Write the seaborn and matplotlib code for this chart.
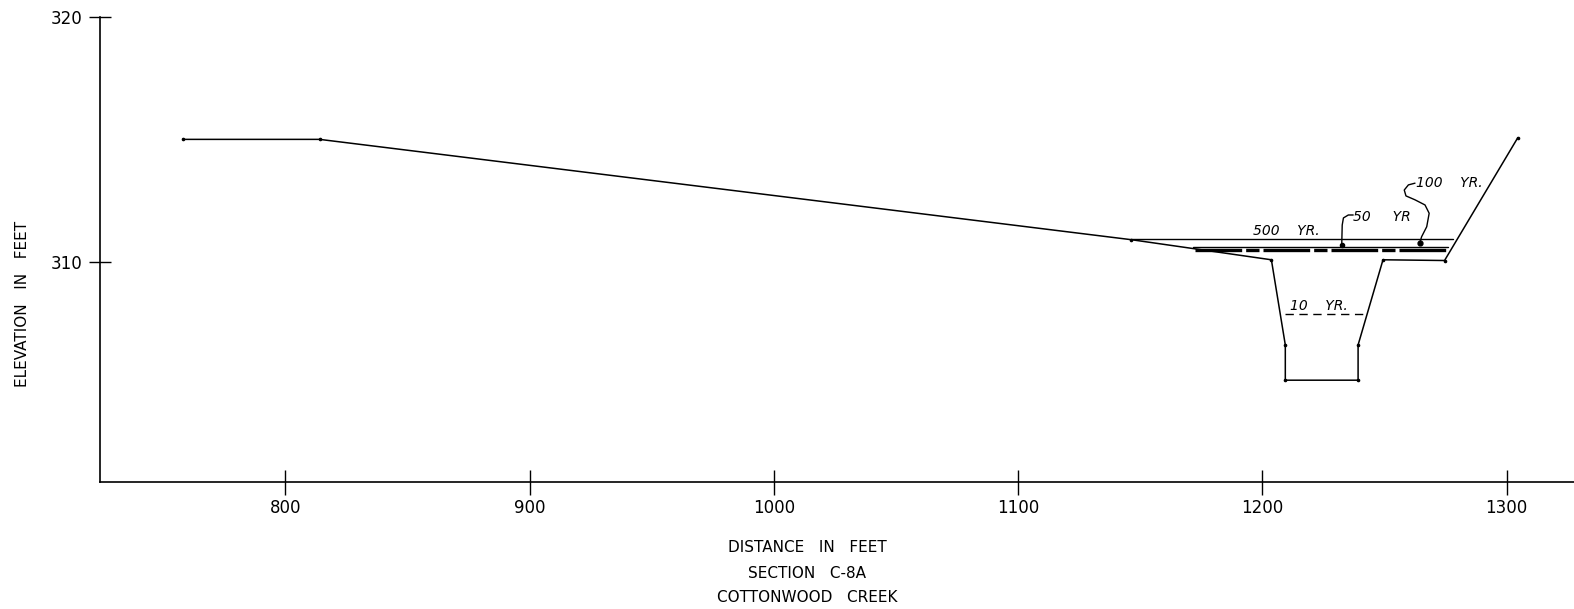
import matplotlib
matplotlib.use("Agg")
import matplotlib.pyplot as plt
import seaborn as sns
import pandas as pd

# --- DATOS ---
# perfil del terreno, seccion C-8A
ground_dist = [758, 814, 1146.4, 1203.7, 1209.4, 1209.4, 1239.2, 1239.2, 1249.4, 1274.6, 1304.6]
ground_elev = [315.0, 315.0, 310.9, 310.08, 306.6, 305.16, 305.16, 306.6, 310.08, 310.05, 315.07]

# niveles de agua por periodo de retorno
wl_500_dist = [1146.4, 1277.9]
wl_500_elev = [310.92, 310.92]
wl_100_dist = [1171.5, 1275.9]
wl_100_elev = [310.62, 310.62]
wl_50_dist = [1172.5, 1275.9]
wl_50_elev = [310.5, 310.5]
wl_10_dist = [1209.3, 1243.0]
wl_10_elev = [307.86, 307.86]

# lineas guia de las etiquetas
lead_50_dist = [1237.2, 1235.2, 1233.2, 1232.7, 1232.5]
lead_50_elev = [311.91, 311.91, 311.79, 311.50, 310.68]
lead_100_dist = [1262.5, 1259.8, 1258.1, 1258.8, 1262.5, 1266.6, 1268.3, 1267.3, 1265.2, 1264.5]
lead_100_elev = [313.21, 313.14, 312.93, 312.69, 312.53, 312.32, 311.98, 311.43, 311.02, 310.78]

x_ticks = [800, 900, 1000, 1100, 1200, 1300]
y_ticks = [310, 320]

# --- GRAFICO ---
sns.set_style("ticks")
plt.rcParams["font.family"] = ["DejaVu Sans"]
plt.rcParams["text.color"] = "black"
plt.rcParams["xtick.color"] = "black"
plt.rcParams["ytick.color"] = "black"

fig = plt.figure(figsize=(15.74, 6.09), dpi=100)
ax = fig.add_axes([100 / 1574, 127 / 609, 1 - 100 / 1574, 465 / 609])

ground = pd.DataFrame({"dist": ground_dist, "elev": ground_elev})
sns.lineplot(data=ground, x="dist", y="elev", sort=False, estimator=None,
             color="black", linewidth=1.1, ax=ax)
ax.plot(ground_dist, ground_elev, "o", color="black", markersize=1.6)

ax.plot(wl_500_dist, wl_500_elev, color="black", linewidth=1.0)
ax.plot(wl_100_dist, wl_100_elev, color="black", linewidth=1.0)
ax.plot(wl_50_dist, wl_50_elev, color="black", linewidth=2.4, dashes=(14, 1.2, 4, 1.2))
ax.plot(wl_10_dist, wl_10_elev, color="black", linewidth=1.0, dashes=(6, 4))

ax.plot(lead_50_dist, lead_50_elev, color="black", linewidth=1.0)
ax.plot(lead_50_dist[-1:], lead_50_elev[-1:], "o", color="black", markersize=3)
ax.plot(lead_100_dist, lead_100_elev, color="black", linewidth=1.0)
ax.plot(lead_100_dist[-1:], lead_100_elev[-1:], "o", color="black", markersize=3.5)

lbl = dict(fontsize=10, style="italic", color="black", va="bottom", ha="left")
ax.text(1196.2, 310.98, "500    YR.", **lbl)
ax.text(1237.0, 311.55, "50     YR", **lbl)
ax.text(1263.0, 312.92, "100    YR.", **lbl)
ax.text(1211.3, 307.9, "10    YR.", **lbl)

ax.set_xlim(724.1, 1327.6)
ax.set_ylim(301, 320)
ax.set_xticks(x_ticks)
ax.set_yticks(y_ticks)
ax.tick_params(axis="x", direction="inout", length=18, width=1, pad=3, labelsize=12)
ax.tick_params(axis="y", direction="inout", length=16.5, width=1, pad=4.5, labelsize=12)
ax.set_xlabel("")
ax.set_ylabel("")
for side in ["top", "right"]:
    ax.spines[side].set_visible(False)
for side in ["left", "bottom"]:
    ax.spines[side].set_linewidth(1.2)
    ax.spines[side].set_color("black")

fig.text(23 / 1574, 1 - 304 / 609, "ELEVATION   IN   FEET", rotation=90,
         ha="center", va="center", fontsize=11)
fig.text(807 / 1574, 1 - 548 / 609, "DISTANCE   IN   FEET", ha="center", va="center", fontsize=11)
fig.text(807 / 1574, 1 - 573 / 609, "SECTION   C-8A", ha="center", va="center", fontsize=11)
fig.text(807 / 1574, 1 - 598 / 609, "COTTONWOOD   CREEK", ha="center", va="center", fontsize=11)

fig.savefig("out.png", dpi=100, facecolor="white")
